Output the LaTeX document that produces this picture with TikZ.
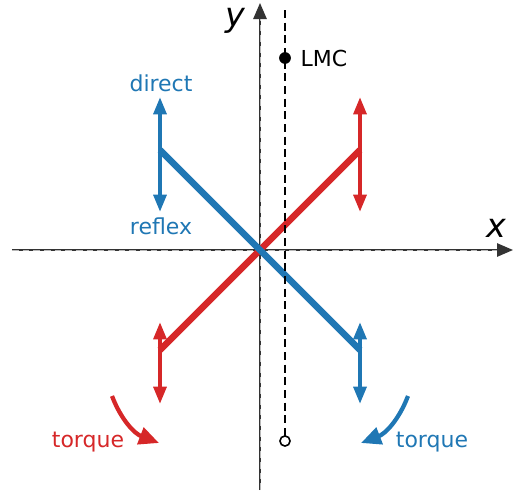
\documentclass[tikz,border=0pt]{standalone}
\usepackage{fontspec}
\setmainfont{DejaVu Sans}
\usetikzlibrary{arrows.meta}
\definecolor{tabred}{HTML}{D62728}
\definecolor{tabblue}{HTML}{1F77B4}
\begin{document}
\begin{tikzpicture}[x=75pt, y=75pt, font=\fontsize{16.5}{19}\selectfont,
	axis/.style={black!80, line width=1.3pt, -{Triangle[length=12pt,width=10pt]}},
	arm/.style={line width=4.8pt},
	swing/.style={line width=3pt, {Triangle[length=13pt,width=9.5pt]}-{Triangle[length=13pt,width=9.5pt]}},
	turn/.style={line width=3.2pt, -{Triangle[length=15pt,width=13pt]}},
	big/.style={font=\fontsize{25}{28}\selectfont\itshape}]
	\useasboundingbox (-2.60,-2.44) rectangle (2.64,2.50);
	
	% Hệ trục
	\coordinate (O) at (0,0);
	\coordinate (xs) at (-2.48,0);
	\coordinate (xe) at (2.53,0);
	\coordinate (ys) at (0,-2.40);
	\coordinate (ye) at (0,2.47);
	\draw[axis] (xs) -- (xe);
	\draw[axis] (ys) -- (ye);
	\draw[gray!55, line width=0.6pt, dash pattern=on 5pt off 3pt] (xs) -- (O) -- (2.37,0);
	\draw[gray!55, line width=0.6pt, dash pattern=on 5pt off 3pt] (ys) -- (O) -- (0,2.31);
	\node[big] (xlab) at (2.36,0.22) {x};
	\node[big] (ylab) at (-0.25,2.29) {y};
	
	% Đầu mút các cánh tay
	\coordinate (P) at (-1,1);
	\coordinate (Q) at (1,-1);
	\coordinate (R) at (-1,-1);
	\coordinate (S) at (1,1);
	\draw[arm, tabred] (R) -- (S);
	\draw[arm, tabblue] (P) -- (Q);
	
	% Mũi tên dao động
	\foreach \p/\lo/\hi/\c in {P/0.38/1.53/tabblue, S/0.38/1.53/tabred, R/-1.54/-0.72/tabred, Q/-1.54/-0.72/tabblue} {
		\draw[swing, \c] (\p |- 0,\lo) -- (\p |- 0,\hi);
	}
	\node[tabblue] (direct) at (-0.99,1.67) {direct};
	\node[tabblue] (reflex) at (-0.99,0.24) {reflex};
	
	% Đường nét đứt LMC
	\coordinate (L) at (0.25,1.92);
	\coordinate (M) at (0.25,-1.91);
	\draw[black, line width=1.6pt, dash pattern=on 6pt off 3.5pt] (0.25,2.40) -- (M);
	\fill (L) circle (4.4pt);
	\draw[line width=1.2pt, fill=white] (M) circle (3.8pt);
	\node[anchor=west] (lmc) at (0.36,1.92) {LMC};
	
	% Mô-men xoắn
	\coordinate (Ta) at (-1.48,-1.46);
	\coordinate (Tb) at (-1.01,-1.93);
	\coordinate (Ua) at (1.48,-1.46);
	\coordinate (Ub) at (1.01,-1.93);
	\draw[turn, tabred] (Ta) to[bend right=24] (Tb);
	\draw[turn, tabblue] (Ua) to[bend left=24] (Ub);
	\node[tabred] (torqueL) at (-1.72,-1.92) {torque};
	\node[tabblue] (torqueR) at (1.72,-1.92) {torque};
\end{tikzpicture}
\end{document}
